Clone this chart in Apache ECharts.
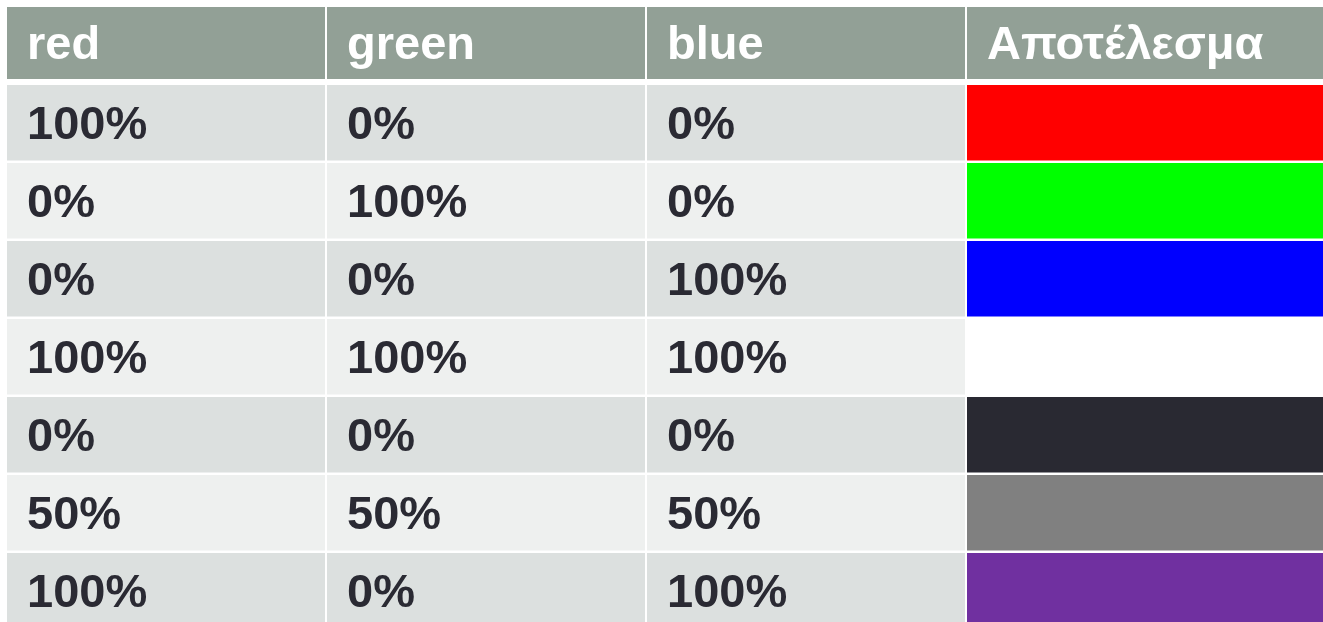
<!DOCTYPE html>
<html>
<head>
<meta charset="utf-8">
<script src="https://cdn.jsdelivr.net/npm/echarts@6/dist/echarts.min.js"></script>
<style>
html,body{margin:0;padding:0;background:#fff;}
#chart{width:1323px;height:622px;}
</style>
</head>
<body>
<div id="chart"></div>
<script>
// ---- data ----
const columns = ['red', 'green', 'blue', 'Αποτέλεσμα'];
const redValues = [100, 0, 0, 100, 0, 50, 100];
const greenValues = [0, 100, 0, 100, 0, 50, 0];
const blueValues = [0, 0, 100, 100, 0, 50, 100];
const resultColors = ['#FF0000', '#00FF00', '#0000FF', '#FFFFFF', '#292932', '#808080', '#7030A0'];

// ---- style / layout ----
const HEADER_BG = '#92A096';
const ROW_BG = ['#DCE0DF', '#EEF0EF'];
const TEXT_COLOR = '#2A2A33';
const FONT = 'bold 47px "Liberation Sans", Arial, sans-serif';
const COL_PX = 320, ROW_PX = 78, LEFT = 7, TOP = 7, W = 1323, H = 622;
const X_MAX = (W - LEFT) / COL_PX;
const Y_MAX = (H - TOP) / ROW_PX;

// build cells: [col, row, text, fill, textColor]
const cells = [];
columns.forEach((c, i) => cells.push([i, 0, c, HEADER_BG, '#FFFFFF']));
redValues.forEach((v, r) => {
  const bg = ROW_BG[r % 2];
  cells.push([0, r + 1, redValues[r] + '%', bg, TEXT_COLOR]);
  cells.push([1, r + 1, greenValues[r] + '%', bg, TEXT_COLOR]);
  cells.push([2, r + 1, blueValues[r] + '%', bg, TEXT_COLOR]);
  cells.push([3, r + 1, '', resultColors[r], TEXT_COLOR]);
});

const chart = echarts.init(document.getElementById('chart'));
chart.setOption({
  animation: false,
  backgroundColor: '#FFFFFF',
  grid: { left: LEFT, top: TOP, right: 0, bottom: 0 },
  xAxis: { type: 'value', min: 0, max: X_MAX, show: false },
  yAxis: { type: 'value', min: 0, max: Y_MAX, inverse: true, show: false },
  series: [{
    type: 'custom',
    silent: true,
    data: cells.map(c => [c[0], c[1]]),
    renderItem: function (params, api) {
      const cell = cells[params.dataIndex];
      const col = api.value(0), row = api.value(1);
      const p0 = api.coord([col, row]);
      const xEnd = col === columns.length - 1 ? X_MAX + 1 : col + 1;
      const p1 = api.coord([xEnd, row + 1]);
      const gapX = 2;
      const gapY = row === 0 ? 6 : 2.5;
      const x = p0[0], y = p0[1];
      const w = p1[0] - p0[0] - gapX;
      const h = p1[1] - p0[1] - gapY;
      const children = [{
        type: 'rect',
        shape: { x: x, y: y, width: w, height: h },
        style: { fill: cell[3] }
      }];
      if (cell[2]) {
        children.push({
          type: 'text',
          style: {
            text: cell[2],
            x: x + 20,
            y: y + h / 2 + 3,
            verticalAlign: 'middle',
            align: 'left',
            font: FONT,
            fill: cell[4]
          }
        });
      }
      return { type: 'group', children: children };
    }
  }]
});
</script>
</body>
</html>
